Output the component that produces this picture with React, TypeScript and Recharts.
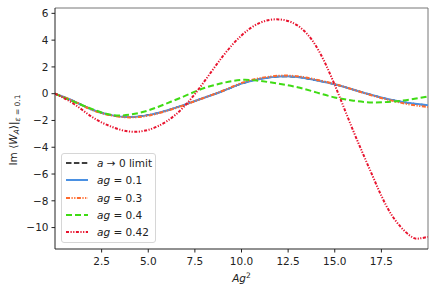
import { LineChart, Line, XAxis, YAxis, ReferenceLine } from "recharts";

// Ag^2 sample points
const agSq = [0, 1, 2, 3, 4, 5, 6, 7, 8, 9, 10, 11, 12, 13, 14, 15, 16, 17, 18, 19, 20];
const agSqRed = [0, 1, 2, 3, 4, 5, 6, 7, 8, 9, 10, 11, 12, 13, 14, 15, 16, 17, 18, 19, 19.5, 20];

// Im <W_A> at eps = 0.1
const limitA0 = [0, -0.55, -1.19, -1.6, -1.73, -1.6, -1.25, -0.8, -0.3, 0.2, 0.74, 1.1, 1.28, 1.24, 1.0, 0.7, 0.3, -0.1, -0.45, -0.7, -0.86];
const ag01 = [0, -0.55, -1.2, -1.6, -1.74, -1.6, -1.25, -0.8, -0.3, 0.2, 0.75, 1.1, 1.28, 1.25, 1.0, 0.7, 0.3, -0.1, -0.45, -0.7, -0.87];
const ag03 = [0, -0.56, -1.22, -1.62, -1.77, -1.64, -1.28, -0.82, -0.3, 0.22, 0.8, 1.16, 1.34, 1.3, 1.05, 0.72, 0.3, -0.13, -0.5, -0.8, -1.0];
const ag04 = [0, -0.6, -1.15, -1.58, -1.57, -1.25, -0.72, -0.15, 0.42, 0.8, 1.03, 0.95, 0.75, 0.48, 0.1, -0.28, -0.52, -0.65, -0.6, -0.45, -0.2];
const ag042 = [0, -0.75, -1.75, -2.45, -2.83, -2.7, -2.05, -0.85, 0.9, 2.8, 4.35, 5.3, 5.55, 5.1, 3.55, 0.65, -2.8, -6.05, -8.95, -10.57, -10.82, -10.7];

const xTicks = [2.5, 5, 7.5, 10, 12.5, 15, 17.5];
const yTicks = [-10, -8, -6, -4, -2, 0, 2, 4, 6];

const pts = (xs: number[], ys: number[]) => xs.map((x, i) => ({ x, y: ys[i] }));

const series = [
  { key: "lim", name: "limit", data: pts(agSq, limitA0), color: "#000000", dash: "5.5 2.4", width: 1.5 },
  { key: "g01", name: "0.1", data: pts(agSq, ag01), color: "#4A90E2", dash: undefined, width: 2 },
  { key: "g03", name: "0.3", data: pts(agSq, ag03), color: "#FF6A2C", dash: "4 1.5 1.2 1.5 1.2 1.5", width: 2 },
  { key: "g04", name: "0.4", data: pts(agSq, ag04), color: "#3FDB14", dash: "6 3", width: 2 },
  { key: "g042", name: "0.42", data: pts(agSqRed, ag042), color: "#E8132E", dash: "3 1.5 1.2 1.5 1.2 1.5", width: 2 },
];

const font = "'DejaVu Sans', sans-serif";

function XLabel({ viewBox }: any) {
  const cx = viewBox.x + viewBox.width / 2;
  return (
    <text x={cx} y={viewBox.y + 33} textAnchor="middle" fontFamily={font} fontSize={10.5} fill="#222">
      <tspan fontStyle="italic">Ag</tspan>
      <tspan fontSize={7.5} dy={-4}>2</tspan>
    </text>
  );
}

function YLabel() {
  return (
    <text x={0} y={0} transform="translate(17,130) rotate(-90)" textAnchor="middle" fontFamily={font} fontSize={10.5} fill="#222">
      <tspan>Im ⟨</tspan>
      <tspan fontStyle="italic">W</tspan>
      <tspan fontStyle="italic" fontSize={7.5} dy={2}>A</tspan>
      <tspan dy={-2}>⟩|</tspan>
      <tspan fontSize={7.5} dy={3}>
        <tspan fontStyle="italic">ε</tspan> = 0.1
      </tspan>
    </text>
  );
}

function LegendBox() {
  return (
    <div
      style={{
        position: "absolute",
        left: 61,
        top: 153,
        width: 95,
        height: 90,
        border: "1px solid #d6d6d6",
        borderRadius: 3,
        background: "rgba(255,255,255,0.8)",
        fontFamily: font,
        fontSize: 10.5,
        color: "#222",
        boxSizing: "border-box",
      }}
    >
      {series.map((s, i) => (
        <div key={s.key} style={{ position: "absolute", left: 3, top: 2 + i * 17.3, height: 14, display: "flex", alignItems: "center" }}>
          <svg width={24} height={14} style={{ display: "block" }}>
            <line x1={1} x2={23} y1={7} y2={7} stroke={s.color} strokeWidth={s.width} strokeDasharray={s.dash} />
          </svg>
          <span style={{ marginLeft: 8, whiteSpace: "nowrap" }}>
            {s.key === "lim" ? (
              <>
                <i>a</i> → 0 limit
              </>
            ) : (
              <>
                <i>ag</i> = {s.name}
              </>
            )}
          </span>
        </div>
      ))}
    </div>
  );
}

export default function App() {
  return (
    <div style={{ position: "absolute", left: 0, top: 0, width: 436, height: 295, background: "#fff" }}>
      <LineChart width={436} height={295} margin={{ top: 8, right: 8, bottom: 0, left: 0 }}>
        <XAxis
          type="number"
          dataKey="x"
          domain={[0, 20]}
          ticks={xTicks}
          tickFormatter={(v: number) => v.toFixed(1)}
          height={46}
          tickSize={3.5}
          tickMargin={5}
          stroke="#222"
          tick={{ fill: "#222", fontSize: 10.5, fontFamily: font }}
          allowDataOverflow
          label={<XLabel />}
        />
        <YAxis
          type="number"
          domain={[-11.6, 6.4]}
          ticks={yTicks}
          tickFormatter={(v: number) => (v < 0 ? "\u2212" + Math.abs(v) : String(v))}
          width={55}
          tickSize={3.5}
          tickMargin={3}
          stroke="#222"
          tick={{ fill: "#222", fontSize: 10.5, fontFamily: font }}
          allowDataOverflow
        />
        <ReferenceLine y={6.4} stroke="#777" strokeWidth={1} />
        <ReferenceLine x={20} stroke="#777" strokeWidth={1} />
        {series.map((s) => (
          <Line
            key={s.key}
            data={s.data}
            dataKey="y"
            type="natural"
            stroke={s.color}
            strokeWidth={s.width}
            strokeDasharray={s.dash}
            dot={false}
            activeDot={false}
            isAnimationActive={false}
          />
        ))}
      </LineChart>
      <svg width={436} height={295} style={{ position: "absolute", left: 0, top: 0, pointerEvents: "none" }}>
        <YLabel />
      </svg>
      <LegendBox />
    </div>
  );
}
